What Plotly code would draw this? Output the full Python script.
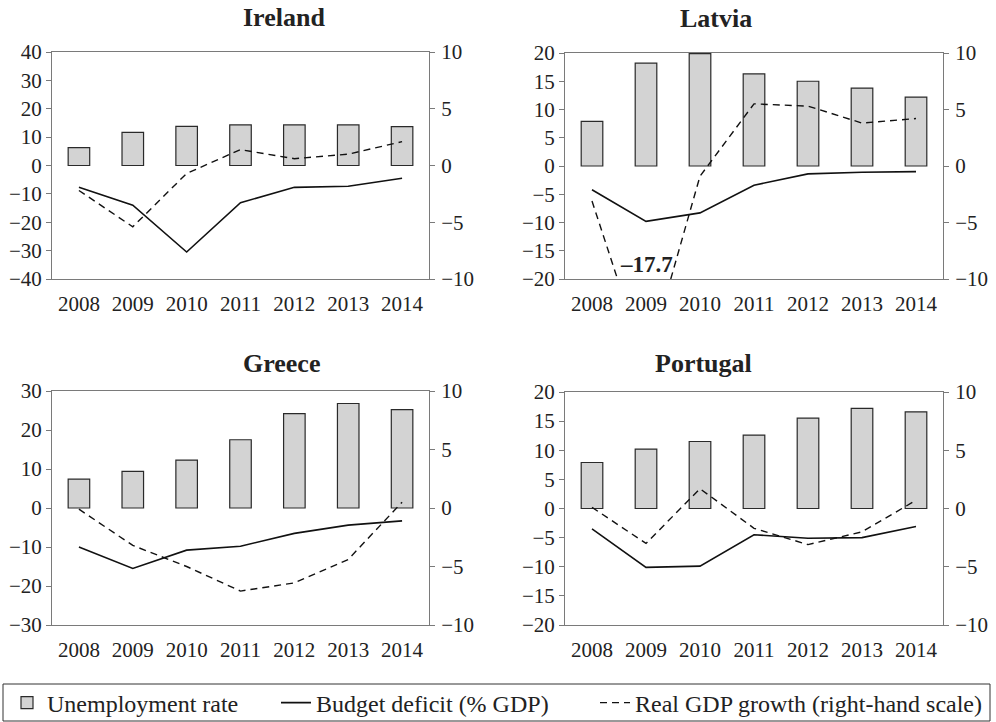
import plotly.graph_objects as go

# data
years = [2008, 2009, 2010, 2011, 2012, 2013, 2014]
countries = ["Ireland", "Latvia", "Greece", "Portugal"]

unemployment = {
    "Ireland": [6.3, 11.7, 13.8, 14.3, 14.3, 14.3, 13.7],
    "Latvia": [7.9, 18.2, 19.9, 16.3, 15.0, 13.8, 12.2],
    "Greece": [7.4, 9.4, 12.3, 17.5, 24.2, 26.8, 25.2],
    "Portugal": [7.9, 10.2, 11.5, 12.6, 15.5, 17.2, 16.6],
}
deficit = {
    "Ireland": [-7.7, -14.0, -30.5, -13.1, -7.7, -7.3, -4.5],
    "Latvia": [-4.2, -9.8, -8.3, -3.4, -1.4, -1.1, -1.0],
    "Greece": [-10.0, -15.5, -10.8, -9.8, -6.5, -4.4, -3.3],
    "Portugal": [-3.5, -10.1, -9.9, -4.5, -5.1, -5.0, -3.1],
}
gdp_growth = {
    "Ireland": [-2.2, -5.4, -0.7, 1.4, 0.6, 1.0, 2.1],
    "Latvia": [-3.1, -17.7, -0.9, 5.5, 5.3, 3.8, 4.2],
    "Greece": [-0.1, -3.2, -5.0, -7.1, -6.4, -4.4, 0.5],
    "Portugal": [0.1, -3.0, 1.7, -1.7, -3.1, -2.0, 0.7],
}
left_range = {"Ireland": 40, "Latvia": 20, "Greece": 30, "Portugal": 20}
left_dtick = {"Ireland": 10, "Latvia": 5, "Greece": 10, "Portugal": 5}
right_range = 10

W, H = 996, 722
# plot boxes in pixels: left, right, top, bottom, title offset
boxes = {
    "Ireland": (52, 429, 52, 279, 34),
    "Latvia": (565, 943, 53, 279, 34),
    "Greece": (52, 429, 391, 625, 28),
    "Portugal": (565, 943, 392, 625, 28),
}

FONT = "Liberation Serif"
GRID = "#7a7a7a"
TICK = dict(family=FONT, size=21, color="#222")
fig = go.Figure()
layout = {}

for k, c in enumerate(countries):
    n, m = 2 * k + 1, 2 * k + 2
    xn = "x" if n == 1 else f"x{n}"
    yn = "y" if n == 1 else f"y{n}"
    xm, ym = f"x{m}", f"y{m}"
    l, r, t, b, _ = boxes[c]
    xd = [l / W, r / W]
    yd = [1 - b / H, 1 - t / H]
    lo, hi = -left_range[c], left_range[c]
    zero_pos = yd[0] + (0 - lo) / (hi - lo) * (yd[1] - yd[0])

    fig.add_trace(go.Bar(
        x=years, y=unemployment[c], width=0.4, name="Unemployment rate",
        marker=dict(color="#d3d3d3", line=dict(color="#2a2a2a", width=1.2)),
        xaxis=xn, yaxis=yn, showlegend=(k == 0), legendrank=1,
        legendwidth=224))
    fig.add_trace(go.Scatter(
        x=years, y=deficit[c], mode="lines", name="Budget deficit (% GDP)",
        line=dict(color="#111111", width=1.6),
        xaxis=xn, yaxis=yn, showlegend=(k == 0), legendrank=2,
        legendwidth=274))
    fig.add_trace(go.Scatter(
        x=years, y=gdp_growth[c], mode="lines",
        name="Real GDP growth (right-hand scale)",
        line=dict(color="#111111", width=1.4, dash="7px,5px"),
        xaxis=xn, yaxis=ym, showlegend=(k == 0), legendrank=3))

    xr = [years[0] - 0.5, years[-1] + 0.5]
    layout["xaxis" if n == 1 else f"xaxis{n}"] = dict(
        domain=xd, range=xr, anchor=yn, tickvals=years,
        ticktext=[str(v) for v in years], ticks="outside", ticklen=6,
        tickcolor="rgba(0,0,0,0)", showline=True, mirror=True,
        linecolor=GRID, linewidth=1, showgrid=False, zeroline=False,
        tickfont=TICK)
    layout[f"xaxis{m}"] = dict(
        overlaying=xn, anchor="free", position=zero_pos, range=xr,
        tickvals=[v + 0.5 for v in years[:-1]], showticklabels=False,
        ticks="outside", ticklen=7, tickcolor="#333", showline=True,
        linecolor="#333", linewidth=1.2, showgrid=False, zeroline=False)
    layout["yaxis" if n == 1 else f"yaxis{n}"] = dict(
        domain=yd, range=[lo, hi], dtick=left_dtick[c], anchor=xn,
        ticks="outside", ticklen=5, tickcolor=GRID, showline=True,
        linecolor=GRID, showgrid=False, zeroline=False,
        tickfont=TICK, tickformat="d")
    layout[f"yaxis{m}"] = dict(
        overlaying=yn, side="right", anchor=xn,
        range=[-right_range, right_range], dtick=5, ticks="outside",
        ticklen=5, tickcolor=GRID, showline=True, linecolor=GRID,
        showgrid=False, zeroline=False, ticklabelstandoff=2,
        tickfont=TICK)

fig.update_layout(**layout)

for c in countries:
    l, r, t, b, off = boxes[c]
    fig.add_annotation(
        x=(l + r) / 2 / W, y=1 - (t - off) / H, xref="paper", yref="paper",
        text=f"<b>{c}</b>", showarrow=False, yanchor="middle",
        font=dict(family=FONT, size=26, color="#222"))

# value label for the off-scale Latvia 2009 point
fig.add_annotation(
    x=years[1], y=-8.7, xref="x3", yref="y4",
    text="<b>\u201317.7</b>", showarrow=False,
    font=dict(family=FONT, size=23, color="#222"))

# legend frame
fig.add_shape(type="rect", xref="paper", yref="paper",
              x0=3 / W, x1=990 / W, y0=1 - 721 / H, y1=1 - 684 / H,
              line=dict(color="#333", width=1))

fig.update_layout(
    width=W, height=H,
    margin=dict(l=0, r=0, t=0, b=0, autoexpand=False),
    plot_bgcolor="white", paper_bgcolor="white",
    legend=dict(orientation="h", x=7 / W, y=1 - 703 / H, yanchor="middle",
                xanchor="left",
                font=dict(family=FONT, size=24, color="#222"),
                bgcolor="rgba(0,0,0,0)", itemwidth=30),
)

# drop the default page margin so the figure sits at the window corner
fig.write_html("out.html", config={"displayModeBar": False},
               post_script="document.body.style.margin='0';")
